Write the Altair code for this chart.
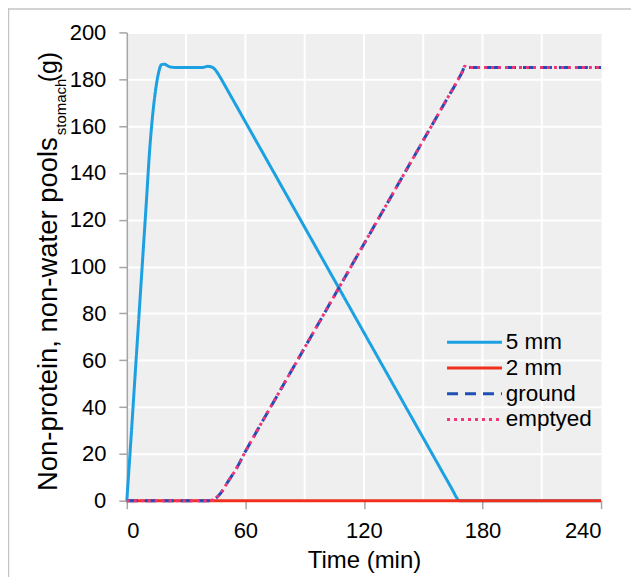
import altair as alt
import pandas as pd

# ---------------- data ----------------
time_5mm = [0, 2, 4, 6, 8, 10, 11.5, 13, 14.5, 16, 17.5, 19, 21, 23, 26, 38, 41, 43, 45, 47,
            49, 50, 60, 80, 100, 120, 140, 160, 165, 167, 168, 168.5, 240]
val_5mm = [0, 25, 51, 77, 103, 129, 149, 164, 175, 182.5, 186.2, 186.4, 185.6, 185.1, 185, 185,
           185.5, 185.2, 183.8, 181.2, 178.3, 176.8, 161.8, 131.8, 101.8, 71.8, 41.8, 11.8,
           4.3, 1.2, 0.1, 0, 0]

time_2mm = [0, 60, 120, 180, 240]
val_2mm = [0, 0, 0, 0, 0]

time_ground = [0, 42, 44, 46, 48, 50, 52, 55, 60, 65, 80, 100, 120, 140, 160, 168, 170, 171, 172.5, 175, 240]
val_ground = [0, 0, 0.5, 1.8, 3.8, 6.5, 9.2, 13, 21, 28.5, 50.6, 80.1, 109.6, 139.1, 168.6,
              180.4, 183.6, 185.6, 185.2, 185, 185]

time_emptyed = [0, 42, 44, 46, 48, 50, 52, 55, 60, 65, 80, 100, 120, 140, 160, 168, 170, 171, 172.5, 175, 240]
val_emptyed = [0, 0, 0.5, 1.8, 3.8, 6.5, 9.2, 13, 21, 28.5, 50.6, 80.1, 109.6, 139.1, 168.6,
               180.4, 183.6, 185.6, 185.2, 185, 185]

series_names = ["5 mm", "2 mm", "ground", "emptyed"]
series_colors = ["#1ba1e2", "#f0301c", "#1f4fb5", "#f2357a"]
series_dash = [[1, 0], [1, 0], [11, 7], [3, 4]]

x_ticks = [0, 60, 120, 180, 240]
x_grid = [30, 60, 90, 120, 150, 180, 210]
y_ticks = [0, 20, 40, 60, 80, 100, 120, 140, 160, 180, 200]

y_title_main = "Non-protein, non-water pools"
y_title_sub = "stomach"
y_title_unit = "(g)"
x_title = "Time (min)"

# ---------------- build table ----------------
rows = []
for name, ts, vs in zip(series_names,
                        [time_5mm, time_2mm, time_ground, time_emptyed],
                        [val_5mm, val_2mm, val_ground, val_emptyed]):
    for t, v in zip(ts, vs):
        rows.append({"series": name, "t": t, "v": v})
df = pd.DataFrame(rows)
grid_df = pd.DataFrame({"t": x_grid})
one = pd.DataFrame({"a": [0]})

FONT = "Liberation Sans"
GRAY = "#a6a6a6"

xscale = alt.Scale(domain=[0, 240], nice=False)
yscale = alt.Scale(domain=[0, 200], nice=False)

legend = alt.Legend(title=None, orient="none", legendX=337, legendY=299,
                    symbolType="M-5,0H5", symbolSize=121, symbolStrokeWidth=3,
                    labelFontSize=22.5, labelFont=FONT, labelColor="black",
                    labelOffset=20, rowPadding=2.8, padding=0)

x_axis = alt.Axis(values=x_ticks, grid=False, title=x_title, tickSize=8,
                  labelPadding=12, titlePadding=7, format="d")
x_enc = alt.X("t:Q", scale=xscale, axis=x_axis)
y_enc = alt.Y("v:Q", scale=yscale,
              axis=alt.Axis(values=y_ticks, grid=True, gridColor="white", gridWidth=2,
                            title=None, tickSize=8, labelPadding=13, format="d"))

grid = alt.Chart(grid_df).mark_rule(color="white", strokeWidth=2).encode(
    x=alt.X("t:Q", scale=xscale, axis=x_axis)
)

layers = [grid]
for name in series_names:
    layers.append(
        alt.Chart(df).transform_filter(alt.datum.series == name)
        .mark_line(strokeWidth=3, interpolate="monotone")
        .encode(
            x=x_enc, y=y_enc,
            color=alt.Color("series:N", scale=alt.Scale(domain=series_names, range=series_colors),
                            legend=legend),
            strokeDash=alt.StrokeDash("series:N",
                                      scale=alt.Scale(domain=series_names, range=series_dash),
                                      legend=legend),
        )
    )

t_main = alt.Chart(one).mark_text(angle=270, align="right", baseline="alphabetic",
                                  font=FONT, fontSize=27.5, color="black").encode(
    x=alt.value(-70), y=alt.value(105), text=alt.value(y_title_main))
t_sub = alt.Chart(one).mark_text(angle=270, align="left", baseline="alphabetic",
                                 font=FONT, fontSize=15, color="black").encode(
    x=alt.value(-61), y=alt.value(103), text=alt.value(y_title_sub))
t_unit = alt.Chart(one).mark_text(angle=270, align="left", baseline="alphabetic",
                                  font=FONT, fontSize=25, color="black").encode(
    x=alt.value(-70), y=alt.value(50), text=alt.value(y_title_unit))

frame_left = alt.Chart(one).mark_rule(color="#c4c4c4", strokeWidth=1.5).encode(
    x=alt.value(-118.5), y=alt.value(-24.25), y2=alt.value(800))
frame_top = alt.Chart(one).mark_rule(color="#c4c4c4", strokeWidth=1.5).encode(
    x=alt.value(-119.25), x2=alt.value(800), y=alt.value(-23.5))

chart = alt.layer(*layers, t_main, t_sub, t_unit, frame_left, frame_top).properties(
    width=475, height=469,
    autosize=alt.AutoSizeParams(type="none"),
    padding={"left": 119, "top": 24, "right": 30, "bottom": 76},
).configure_view(
    stroke="transparent", fill="#efefef"
).configure_axis(
    labelFont=FONT, titleFont=FONT, labelColor="black", titleColor="black",
    labelFontSize=22, titleFontSize=24, titleFontWeight="normal",
    domainColor=GRAY, tickColor=GRAY, domainWidth=1.5, tickWidth=1.5,
)

chart.save("out.html", embed_options={"renderer": "svg", "actions": False})
